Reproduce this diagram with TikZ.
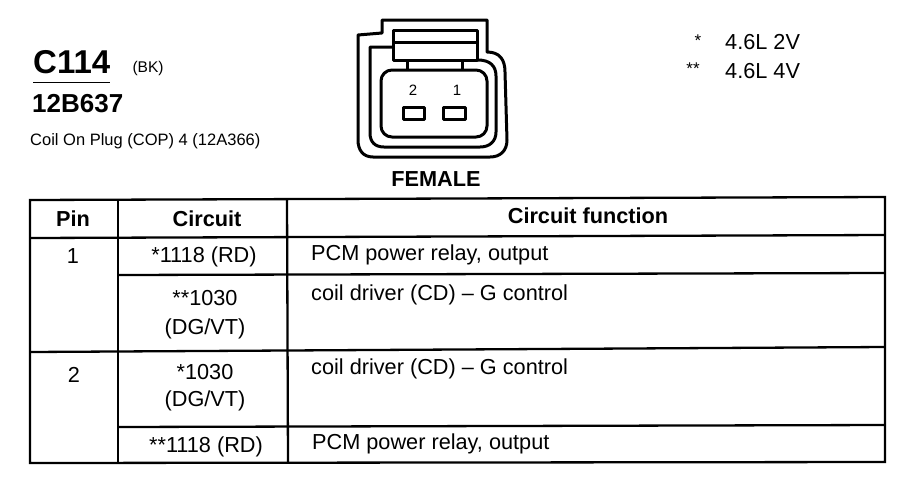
\documentclass[tikz,border=0pt]{standalone}
\usepackage{fontspec}
\setmainfont{Liberation Sans}
\newcommand{\fz}[1]{\fontsize{#1}{#1}\selectfont}
\tikzset{
  x=1pt,y=-1pt,
  rule/.style={line width=2.3pt,black},
  conn/.style={line width=3pt,black,line join=round},
  lbl/.style={inner sep=0pt,text=black,font=\fz{21.7}},
  lft/.style={lbl,anchor=west},
  head/.style={inner sep=0pt,text=black,font=\fz{21.7}\bfseries},
}
\begin{document}
\begin{tikzpicture}
\useasboundingbox[fill=white] (0,0) rectangle (918,480);
% table
\draw[rule] (30,200) -- (885,197) -- (885,462) -- (30,463) -- cycle;
\draw[rule] (118,200) -- (118,463);
\draw[rule] (287,199) -- (288,463);
\draw[rule] (30,238) -- (885,235);
\draw[rule] (118,275) -- (885,273);
\draw[rule] (30,352) -- (885,347);
\draw[rule] (118,427) -- (885,425);
% header
\node[head] (hpin) at (73,219) {Pin};
\node[head] (hcir) at (207,219) {Circuit};
\node[head] (hfun) at (588,216) {Circuit function};
% rows
\node[lbl] (p1) at (73,256) {1};
\node[lbl] (p2) at (74,375) {2};
\node[lbl] (c1) at (204,257) {*1118 (RD)};
\node[lbl] (c2) at (205,298) {**1030};
\node[lbl] (c2b) at (205,329) {(DG/VT)};
\node[lbl] (c3) at (205,372) {*1030};
\node[lbl] (c3b) at (205,401) {(DG/VT)};
\node[lbl] (c4) at (206,447) {**1118 (RD)};
\node[lft] (f1) at (311,255) {PCM power relay, output};
\node[lft] (f2) at (311,295) {coil driver (CD) – G control};
\node[lft] (f3) at (311,369) {coil driver (CD) – G control};
\node[lft] (f4) at (312,444) {PCM power relay, output};
% title block
\node[inner sep=0pt,anchor=west,font=\fz{33}\bfseries] (t1) at (33,62) {C114};
\node[inner sep=0pt,font=\fz{15.5}] (t2) at (148,68) {(BK)};
\draw[line width=1pt] (33,82) -- (110,82);
\node[inner sep=0pt,anchor=west,font=\fz{26}\bfseries] (t3) at (32,104) {12B637};
\node[inner sep=0pt,anchor=west,font=\fz{16.5}] (t4) at (30,141) {Coil On Plug (COP) 4 (12A366)};
% legend
\node[lft] (k1) at (725,42) {4.6L 2V};
\node[lft] (k2) at (725,71) {4.6L 4V};
\node[inner sep=0pt,font=\fz{17}] (s1) at (698,41) {*};
\node[inner sep=0pt,font=\fz{17}] (s2) at (693,69) {**};
% connector
\draw[conn] (358,35) -- (382,33) -- (382,20) -- (487,20) -- (487,52)
  .. controls (500,52) and (505,60) .. (505,72) -- (507,140)
  .. controls (507,151) and (500,157) .. (490,157) -- (373,157)
  .. controls (363,157) and (358,150) .. (358,140) -- cycle;
\draw[conn] (393,47) -- (370,47) -- (370,133)
  .. controls (370,142) and (375,147) .. (384,147) -- (480,147)
  .. controls (490,147) and (496,141) .. (496,132) -- (496,76)
  .. controls (496,66) and (490,60) .. (478,60);
\draw[conn] (393,30) rectangle (477,60);
\draw[conn] (393,42) -- (477,42);
\draw[conn] (407,60) -- (407,70);
\draw[conn] (462,60) -- (462,70);
\draw[conn,rounded corners=11pt] (381,70) rectangle (487,137);
\draw[conn] (403,107) rectangle (424,119);
\draw[conn] (443,107) rectangle (465,119);
\node[inner sep=0pt,font=\fz{15}] (n2) at (413,90) {2};
\node[inner sep=0pt,font=\fz{15}] (n1) at (457,90) {1};
\node[inner sep=0pt,font=\fz{21.7}\bfseries] (fem) at (436,179) {FEMALE};
\end{tikzpicture}
\end{document}
